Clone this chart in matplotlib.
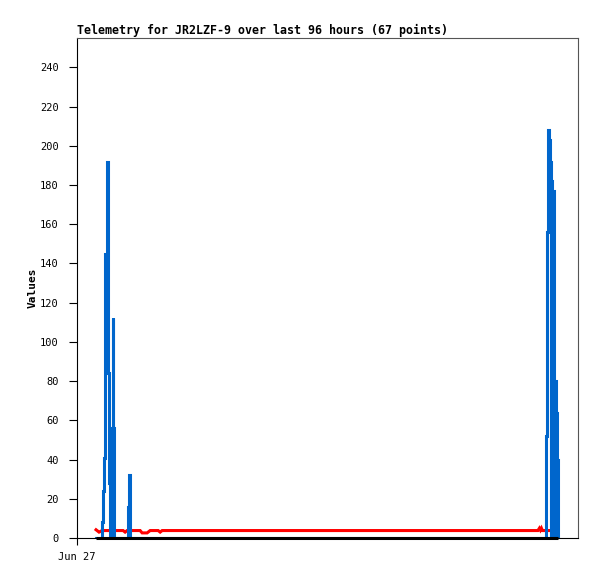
import matplotlib
matplotlib.use('Agg')
import matplotlib.pyplot as plt

# hours since Jun 27 00:00
blue_t = [3.8, 4.89, 4.99, 5.09, 5.29, 5.49, 5.59, 5.89, 6.09, 6.19, 6.39, 6.49,
          6.69, 6.79, 6.99, 7.09, 7.19, 7.29,
          9.98, 10.08, 10.28, 10.48, 10.58,
          93.51, 93.61, 93.81, 94.11, 94.31, 94.51, 94.61, 94.65, 94.81, 95.11,
          95.21, 95.41, 95.51, 95.61, 95.81, 95.91, 96.0]
blue_v = [0, 0, 8, 24, 41, 48, 145, 192, 160, 84, 28, 0,
          0, 28, 56, 112, 56, 0,
          0, 16, 32, 24, 0,
          0, 52, 156, 208, 203, 192, 0, 182, 177, 168,
          0, 80, 16, 64, 40, 0, 0]

red_t = [3.8, 4.4, 5.0, 7.5, 9.2, 9.6, 10.0, 12.6, 13.0, 14.0, 14.6, 16.2, 16.6,
         17.0, 92.0, 92.3, 92.5, 92.7, 92.9, 93.2, 96.0]
red_v = [4.2, 3.0, 3.8, 3.8, 3.8, 3.0, 3.8, 3.8, 2.6, 2.6, 3.8, 3.8, 3.0,
         3.8, 3.8, 5.0, 4.0, 5.0, 3.8, 3.8, 3.8]

black_t = [3.8, 96.0]
black_v = [0, 0]

yticks = list(range(0, 241, 20))

fig = plt.figure(figsize=(5.97, 5.79), dpi=100)
ax = fig.add_axes([77/597, 41/579, 501/597, 500/579])

ax.plot(red_t, red_v, color='#ff0000', lw=2.2, solid_joinstyle='miter')
ax.plot(blue_t, blue_v, color='#0066cc', lw=2.2, drawstyle='steps-post',
        solid_joinstyle='miter')
ax.plot(black_t, black_v, color='black', lw=2.2, solid_capstyle='butt',
        clip_on=False)

ax.set_xlim(0, 100)
ax.set_ylim(0, 255)
ax.set_yticks(yticks)
ax.set_xticks([0])
ax.set_xticklabels(['Jun 27'])

mono = 'DejaVu Sans Mono'
for lab in ax.get_yticklabels() + ax.get_xticklabels():
    lab.set_family(mono)
    lab.set_fontsize(7.5)
ax.tick_params(axis='y', direction='out', length=6, width=0.8, pad=7)
ax.tick_params(axis='x', direction='out', length=5, width=0.8, pad=5)

for s in ['top', 'right']:
    ax.spines[s].set_color('#555555')
    ax.spines[s].set_linewidth(0.8)
for s in ['left', 'bottom']:
    ax.spines[s].set_color('black')
    ax.spines[s].set_linewidth(0.8)

ax.set_ylabel('Values', family=mono, fontsize=8, fontweight='bold', labelpad=2)
ax.set_title('Telemetry for JR2LZF-9 over last 96 hours (67 points)',
             family=mono, fontsize=8.4, fontweight='bold', loc='left', pad=3)

fig.savefig('out.png', dpi=100)
